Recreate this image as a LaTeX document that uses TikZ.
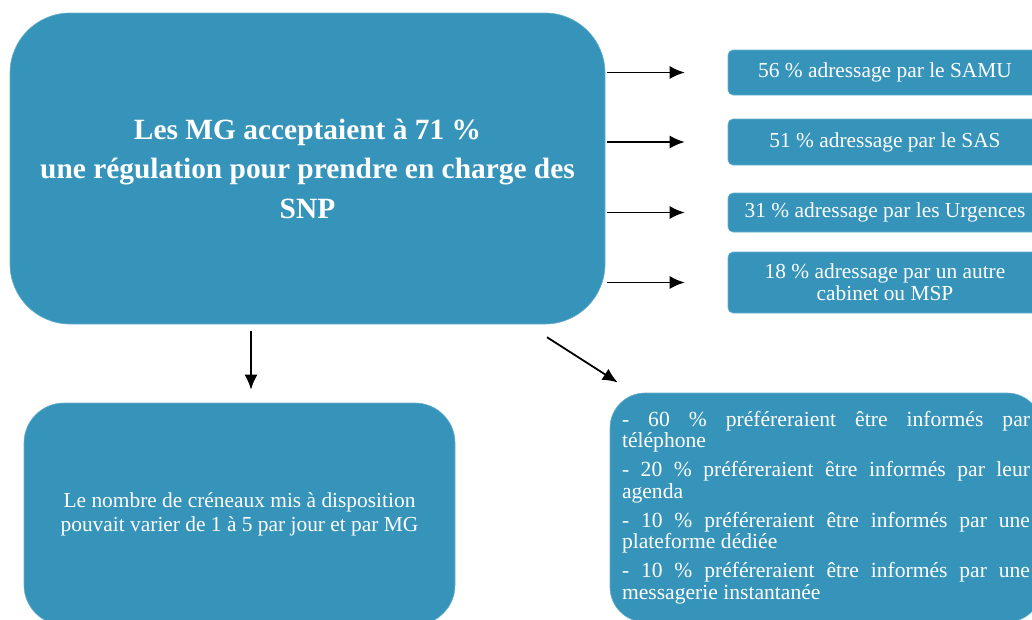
\documentclass[tikz,border=0pt]{standalone}
\usepackage{fontspec}
\setmainfont{Liberation Serif}
\usetikzlibrary{arrows.meta,positioning}
\definecolor{boxblue}{RGB}{54,148,187}

\begin{document}
\begin{tikzpicture}[x=1pt,y=-1pt,
    box/.style={fill=boxblue, draw=boxblue!75!white, line width=0.6pt, text=white,
        font=\fontsize{21.4}{22}\selectfont},
    bigbox/.style={box, rounded corners=60pt, minimum width=595pt, minimum height=311pt,
        align=center, font=\bfseries\fontsize{29.4}{39.5}\selectfont},
    tagbox/.style={box, rounded corners=5pt, minimum width=314pt, inner sep=0pt, align=center},
    arr/.style={-{Latex[length=15pt,width=13pt]}, line width=1.8pt}
]
    \useasboundingbox (0,0) rectangle (1032,619);

    \node[bigbox] (mg) at (307.5,168.5)
        {Les MG acceptaient à 71 \%\\ une régulation pour prendre en charge des\\ SNP};

    \node[tagbox, minimum height=45pt] (samu) at (885,72.5) {56 \% adressage par le SAMU};
    \node[tagbox, minimum height=46pt] (sas) at (885,142) {51 \% adressage par le SAS};
    \node[tagbox, minimum height=39pt] (urg) at (885,212.5) {31 \% adressage par les Urgences};
    \node[tagbox, minimum height=61pt] (cab) at (885,282.5) {18 \% adressage par un autre\\ cabinet ou MSP};

    \node[box, rounded corners=40pt, minimum width=431pt, minimum height=222pt, align=center,
        font=\fontsize{21.4}{24}\selectfont] (slot) at (239.5,514)
        {Le nombre de créneaux mis à disposition\\ pouvait varier de 1 à 5 par jour et par MG};

    \node[box, rounded corners=35pt, minimum height=229pt, inner xsep=12pt, text width=408pt,
        align=justify, font=\fontsize{21.6}{21.5}\selectfont] (pref) at (826,507.5)
        {\parindent=0pt\parskip=7.5pt
        - 60 \% préféreraient être informés par\linebreak téléphone\par
        - 20 \% préféreraient être informés par leur\linebreak agenda\par
        - 10 \% préféreraient être informés par une\linebreak plateforme dédiée\par
        - 10 \% préféreraient être informés par une\linebreak messagerie instantanée};

    % arrows
    \foreach \t in {samu,sas,urg,cab}
        \draw[arr, shorten <=2pt, shorten >=43pt] (mg.east |- \t.west) -- (\t.west);
    \draw[arr, shorten <=7pt, shorten >=13pt] ([xshift=11.5pt]slot.north |- mg.south) -- ([xshift=11.5pt]slot.north);
    \draw[arr, shorten <=24pt, shorten >=19pt] ([xshift=-78.5pt]mg.south east) -- ([xshift=24pt]pref.north west);
\end{tikzpicture}
\end{document}
